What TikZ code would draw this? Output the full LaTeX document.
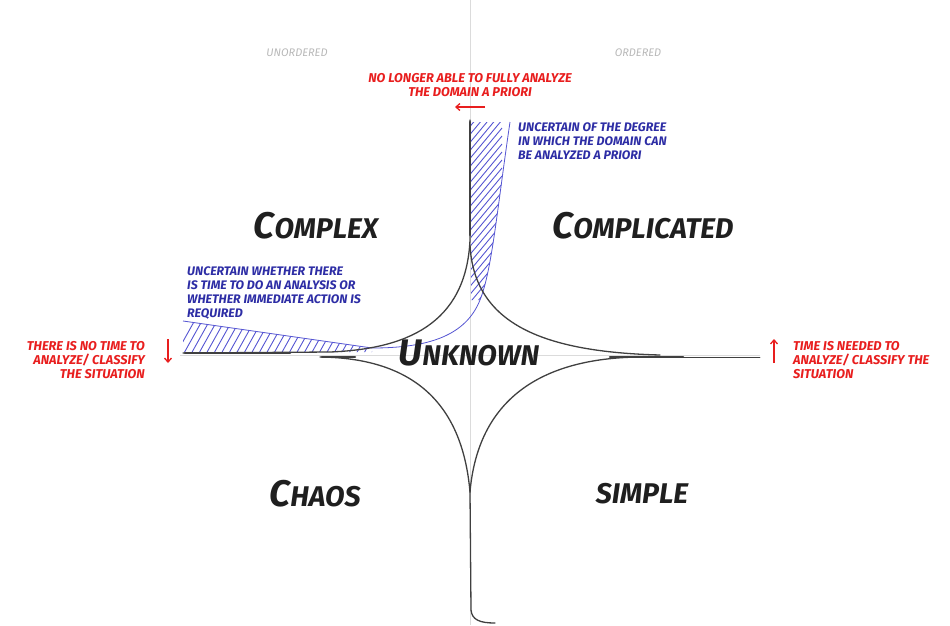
\documentclass[tikz,border=0pt]{standalone}
\usepackage{fontspec}
\setmainfont{Fira Sans}
\usetikzlibrary{arrows.meta}
\usetikzlibrary{positioning}
\definecolor{notered}{RGB}{232,30,30}
\definecolor{noteblue}{RGB}{45,45,165}
\definecolor{hatchblue}{RGB}{85,85,210}
\tikzset{axis line/.style={draw=black!14,line width=0.9pt}}
\tikzset{border/.style={draw=black!75,line width=1.3pt,line cap=round}}
\tikzset{heavy border/.style={border,line width=2.6pt}}
\tikzset{hatch/.style={draw=hatchblue,line width=0.9pt}}
\newcommand{\DOMAIN}[2]{{\fontsize{37}{37}\selectfont #1}{\fontsize{28.5}{28.5}\selectfont #2}}

\begin{document}
\begin{tikzpicture}
      [
      x=1pt,y=-1pt,
      domain label/.style={font=\itshape\bfseries,text=black!88,inner sep=0pt},
      side label/.style={font=\fontsize{11}{11}\selectfont\itshape,text=black!28,inner sep=0pt},
      red note/.style={font=\fontsize{12.8}{14}\selectfont\itshape\bfseries,text=notered,inner sep=0pt},
      blue note/.style={font=\fontsize{12.4}{14}\selectfont\itshape\bfseries,text=noteblue,inner sep=0pt,align=left},
      red arrow/.style={draw=notered,line width=1.3pt,-{Straight Barb[length=4pt,width=7pt]}},
      ]
      \useasboundingbox (0,0) rectangle (950,625);

      % axes
      \coordinate (top) at (470,0);
      \coordinate (bottom) at (470,625);
      \coordinate (west) at (180,355);
      \coordinate (east) at (760,355);
      \draw [axis line] (top) -- (bottom);
      \draw [axis line] (west) -- (east);

      % hatched bands
      \begin{scope}
        \clip (471,122) -- (510,122) .. controls (497,210) and (492,270) .. (480,300) -- (471,300) -- cycle;
        \foreach \k in {0,...,24}
        {
        \draw [hatch] (462,128+\k*8) -- ++(40,-48);
        }
      \end{scope}
      \begin{scope}
        \clip (183,321) -- (372,348) -- (372,352) -- (183,352) -- cycle;
        \foreach \k in {0,...,26}
        {
        \draw [hatch] (176+\k*7.5,354) -- ++(19,-34);
        }
      \end{scope}
      \draw [hatch,line width=0.8pt] (510,122) .. controls (497,210) and (492,270) .. (480,300)
      .. controls (466,335) and (430,348) .. (372,348) -- (183,321);

      % borders
      \draw [border] (470,120) -- (470,240) .. controls (466,325) and (405,349) .. (330,352) -- (183,353);
      \draw [border] (470,245) .. controls (474,325) and (545,352) .. (660,355);
      \draw [border] (320,357) .. controls (410,358) and (462,400) .. (470,492);
      \draw [border] (470,492) .. controls (478,400) and (540,358) .. (640,357) -- (683,357);
      \draw [border,line width=0.9pt] (683,357) -- (760,357);
      \draw [border] (470,492) -- (471,610) .. controls (472,620) and (480,623) .. (495,623);
      \draw [heavy border] (470,122) -- (470,235);
      \draw [heavy border] (185,353) -- (290,353);
      \draw [heavy border] (322,357) -- (355,357);
      \draw [heavy border] (610,357) -- (683,357);

      % domains
      \node [domain label] (complex) at (316,226) {\DOMAIN{C}{OMPLEX}};
      \node [domain label] (complicated) at (643,226) {\DOMAIN{C}{OMPLICATED}};
      \node [domain label] (unknown) at (469,353) {\DOMAIN{U}{NKNOWN}};
      \node [domain label] (chaos) at (315,494) {\DOMAIN{C}{HAOS}};
      \node [domain label] (simple) at (642,494) {\DOMAIN{}{SIMPLE}};

      % notes
      \node [side label] (unordered) at (297,53) {UNORDERED};
      \node [side label] (ordered) at (638,53) {ORDERED};
      \node [red note,align=center] (a priori) at (470,85) {NO LONGER ABLE TO FULLY ANALYZE\\THE DOMAIN A PRIORI};
      \node [blue note,anchor=north west] (degree) at (518,122) {UNCERTAIN OF THE DEGREE\\IN WHICH THE DOMAIN CAN\\BE ANALYZED A PRIORI};
      \node [blue note,anchor=north west] (whether) at (187,266) {UNCERTAIN WHETHER THERE\\IS TIME TO DO AN ANALYSIS OR\\WHETHER IMMEDIATE ACTION IS\\REQUIRED};
      \node [red note,align=right,anchor=north east] (no time) at (145,341) {THERE IS NO TIME TO\\ANALYZE/ CLASSIFY\\THE SITUATION};
      \node [red note,align=left,anchor=north west] (needed) at (793,341) {TIME IS NEEDED TO\\ANALYZE/ CLASSIFY THE\\SITUATION};

      % arrows
      \coordinate (shift tail) at (485,107);
      \coordinate (shift head) at (455,107);
      \coordinate (down tail) at (168,339);
      \coordinate (down head) at (168,363);
      \coordinate (up tail) at (774,363);
      \coordinate (up head) at (774,339);
      \draw [red arrow] (shift tail) -- (shift head);
      \draw [red arrow] (down tail) -- (down head);
      \draw [red arrow] (up tail) -- (up head);

    \end{tikzpicture}
\end{document}
